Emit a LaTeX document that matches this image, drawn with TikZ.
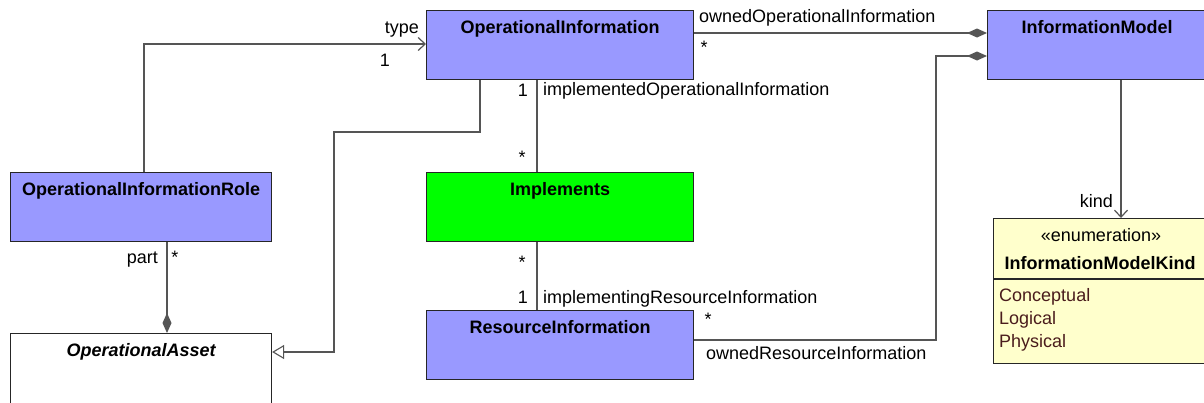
\documentclass[tikz,border=0pt]{standalone}
\usepackage{fontspec}
\setmainfont{Liberation Sans}
\usepackage{tikz}
\usetikzlibrary{arrows.meta}

\definecolor{clsblue}{HTML}{9999FF}
\definecolor{clsgreen}{HTML}{00FF00}
\definecolor{enumyellow}{HTML}{FFFFCC}
\definecolor{linkgray}{HTML}{555555}
\definecolor{literal}{HTML}{4A1C1C}

\begin{document}
\begin{tikzpicture}[x=1pt, y=-1pt,
    every node/.style={font=\fontsize{18}{21}\selectfont, inner sep=0pt},
    cls/.style={draw=black!85, line width=1.1pt, anchor=north west,
      text height=22.5pt, text depth=46.5pt, font=\fontsize{18}{21}\selectfont\bfseries},
    link/.style={draw=linkgray, line width=1.3pt},
    star/.style={anchor=north}]
  \useasboundingbox (0,0) rectangle (1204,402);

  \node[cls, fill=clsblue, minimum width=267pt] (oi) at (426,10) {OperationalInformation};
  \node[cls, fill=clsblue, minimum width=219pt] (im) at (987,10) {InformationModel};
  \node[cls, fill=clsblue, minimum width=261pt] (oir) at (10,172) {OperationalInformationRole};
  \node[cls, fill=clsgreen, minimum width=267pt] (imp) at (426,172) {Implements};
  \node[cls, fill=clsblue, minimum width=267pt] (ri) at (426,310) {ResourceInformation};
  \node[cls, fill=white, minimum width=261pt, text depth=54.5pt,
    font=\fontsize{18}{21}\selectfont\bfseries\itshape] (oa) at (10,333) {OperationalAsset};

  \node[draw=black!85, line width=1.1pt, fill=enumyellow, anchor=north west,
    minimum width=215pt, minimum height=145pt] (imk) at (993,218) {};
  \node[anchor=mid] (imkStereo) at (1101,239) {«enumeration»};
  \node[anchor=mid, font=\fontsize{18}{21}\selectfont\bfseries] (imkName) at (1100,267) {InformationModelKind};
  \draw[draw=black!85, line width=1.1pt] (993,279) coordinate (sepL)
    -- (sepL -| imk.east);
  \node[anchor=mid west, text=literal] (litC) at (999,299) {Conceptual};
  \node[anchor=mid west, text=literal] (litL) at (999,322) {Logical};
  \node[anchor=mid west, text=literal] (litP) at (999,345) {Physical};

  \draw[link, -{Straight Barb[length=7pt, width=13pt, line width=1.2pt]}]
    ([xshift=134pt]oir.north west) |- ([yshift=-34pt]oi.north west);
  \node[anchor=mid east] (lType) at (419,31) {type};
  \node[anchor=mid east] (mType) at (390,64) {1};

  \draw[link, -{Triangle[open, fill=white, length=12pt, width=14pt, line width=1.1pt]}]
    ([xshift=54pt]oi.south west) |- (334,132) |- ([yshift=-19pt]oa.north east);

  \draw[link] ([xshift=111pt]oi.south west) -- ([xshift=111pt]imp.north west);
  \node[anchor=mid east] (mImplOi) at (528,94) {1};
  \node[anchor=mid west] (lImplOi) at (543,93) {implementedOperationalInformation};
  \node[star] (sImplOi) at (522,151) {*};

  \draw[link] ([xshift=111pt]imp.south west) -- ([xshift=111pt]ri.north west);
  \node[star] (sImplRi) at (522,256) {*};
  \node[anchor=mid east] (mImplRi) at (528,301) {1};
  \node[anchor=mid west] (lImplRi) at (543,301) {implementingResourceInformation};

  \draw[link, -{Diamond[length=20pt, width=9pt]}]
    ([yshift=-23pt]oi.north east) -- ([yshift=-23pt]im.north west);
  \node[anchor=mid west] (lOwnOi) at (699,20) {ownedOperationalInformation};
  \node[star] (sOwnOi) at (704,41) {*};

  \draw[link, -{Diamond[length=20pt, width=9pt]}]
    ([yshift=-30pt]ri.north east) -| ([xshift=-51pt, yshift=-46pt]im.north west)
    -- ([yshift=-46pt]im.north west);
  \node[star] (sOwnRi) at (708,313) {*};
  \node[anchor=mid west] (lOwnRi) at (706,357) {ownedResourceInformation};

  \draw[link, -{Straight Barb[length=7pt, width=13pt, line width=1.2pt]}]
    ([xshift=134pt]im.south west) coordinate (kindTop) -- (kindTop |- imk.north);
  \node[anchor=mid east] (lKind) at (1113,205) {kind};

  \draw[link, -{Diamond[length=20pt, width=9pt]}]
    ([xshift=157pt]oir.south west) -- ([xshift=157pt]oa.north west);
  \node[anchor=mid east] (lPart) at (158,261) {part};
  \node[star] (sPart) at (175,251) {*};
\end{tikzpicture}
\end{document}
